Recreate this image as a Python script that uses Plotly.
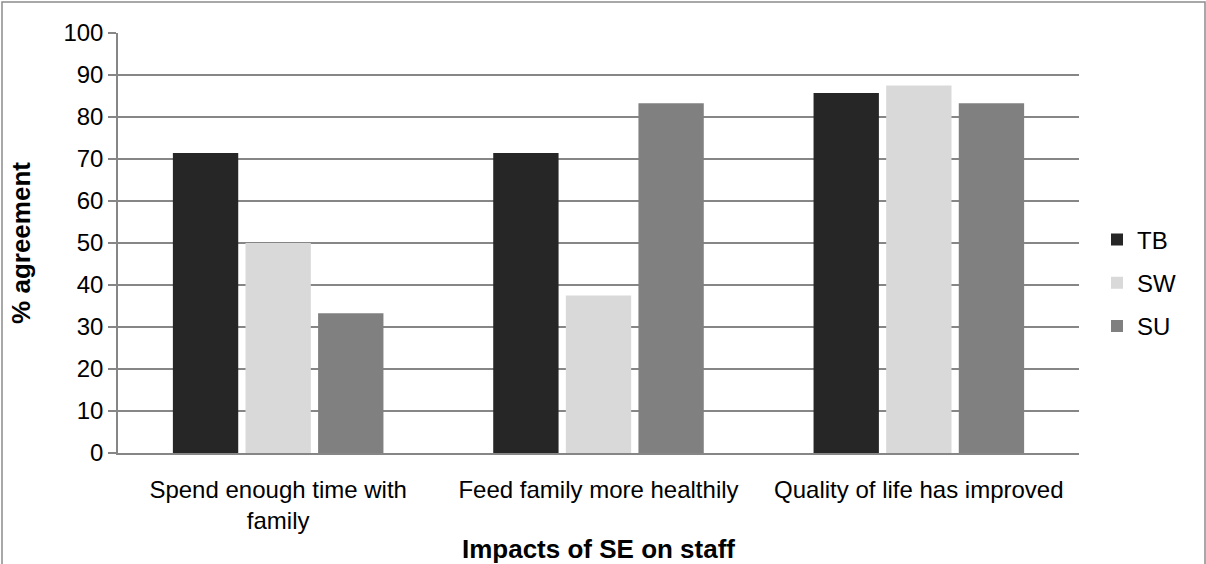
import plotly.graph_objects as go

categories = ["Spend enough time with<br>family", "Feed family more healthily", "Quality of life has improved"]
series_names = ["TB", "SW", "SU"]
tb = [71.4, 71.4, 85.7]
sw = [50.0, 37.5, 87.5]
su = [33.3, 83.3, 83.3]
colors = ["#262626", "#d9d9d9", "#808080"]
y_ticks = list(range(0, 101, 10))

W, H = 1206, 564
L, R, T, B = 118, 127, 33, 111
pw, ph = W - L - R, H - T - B

fig = go.Figure()
for name, vals, col in zip(series_names, [tb, sw, su], colors):
    fig.add_trace(go.Bar(name=name, x=categories, y=vals, legendgroup=name,
                         marker=dict(color=col, line=dict(width=0))))

# outer chart border
fig.add_shape(type="rect", xref="paper", yref="paper",
              x0=(2 - L) / pw, x1=(1205 - L) / pw,
              y0=(H - B - 570) / ph, y1=(H - B - 2) / ph,
              line=dict(color="#8c8c8c", width=1.5), fillcolor="rgba(0,0,0,0)", layer="below")

fig.update_layout(
    width=W, height=H,
    margin=dict(l=L, r=R, t=T, b=B, pad=0, autoexpand=False),
    paper_bgcolor="white", plot_bgcolor="white",
    barmode="group", bargap=0.32, bargroupgap=0.1,
    font=dict(family="Liberation Sans, Arial, sans-serif", color="black"),
    legend=dict(x=(1097 - L) / pw, y=(H - B - 283) / ph, xanchor="left", yanchor="middle",
                font=dict(size=24), itemwidth=30, tracegroupgap=9,
                bgcolor="rgba(0,0,0,0)"),
    xaxis=dict(showgrid=False, showline=True, linecolor="#868686", linewidth=1.5,
               tickfont=dict(size=24), ticks="", ticklabelstandoff=14,
               title=dict(text="<b>Impacts of SE on staff</b>", font=dict(size=26), standoff=7)),
    yaxis=dict(range=[0, 100], tickvals=y_ticks, showgrid=True, gridcolor="#868686", gridwidth=1.5,
               showline=True, linecolor="#868686", linewidth=1.5, ticks="outside", ticklen=8,
               tickcolor="#868686", tickwidth=1.5, tickfont=dict(size=24), zeroline=False,
               title=dict(text="<b>% agreement</b>", font=dict(size=26), standoff=25)),
)

fig.write_html("out.html", config={"displayModeBar": False},
               post_script="document.body.style.margin='0';")
